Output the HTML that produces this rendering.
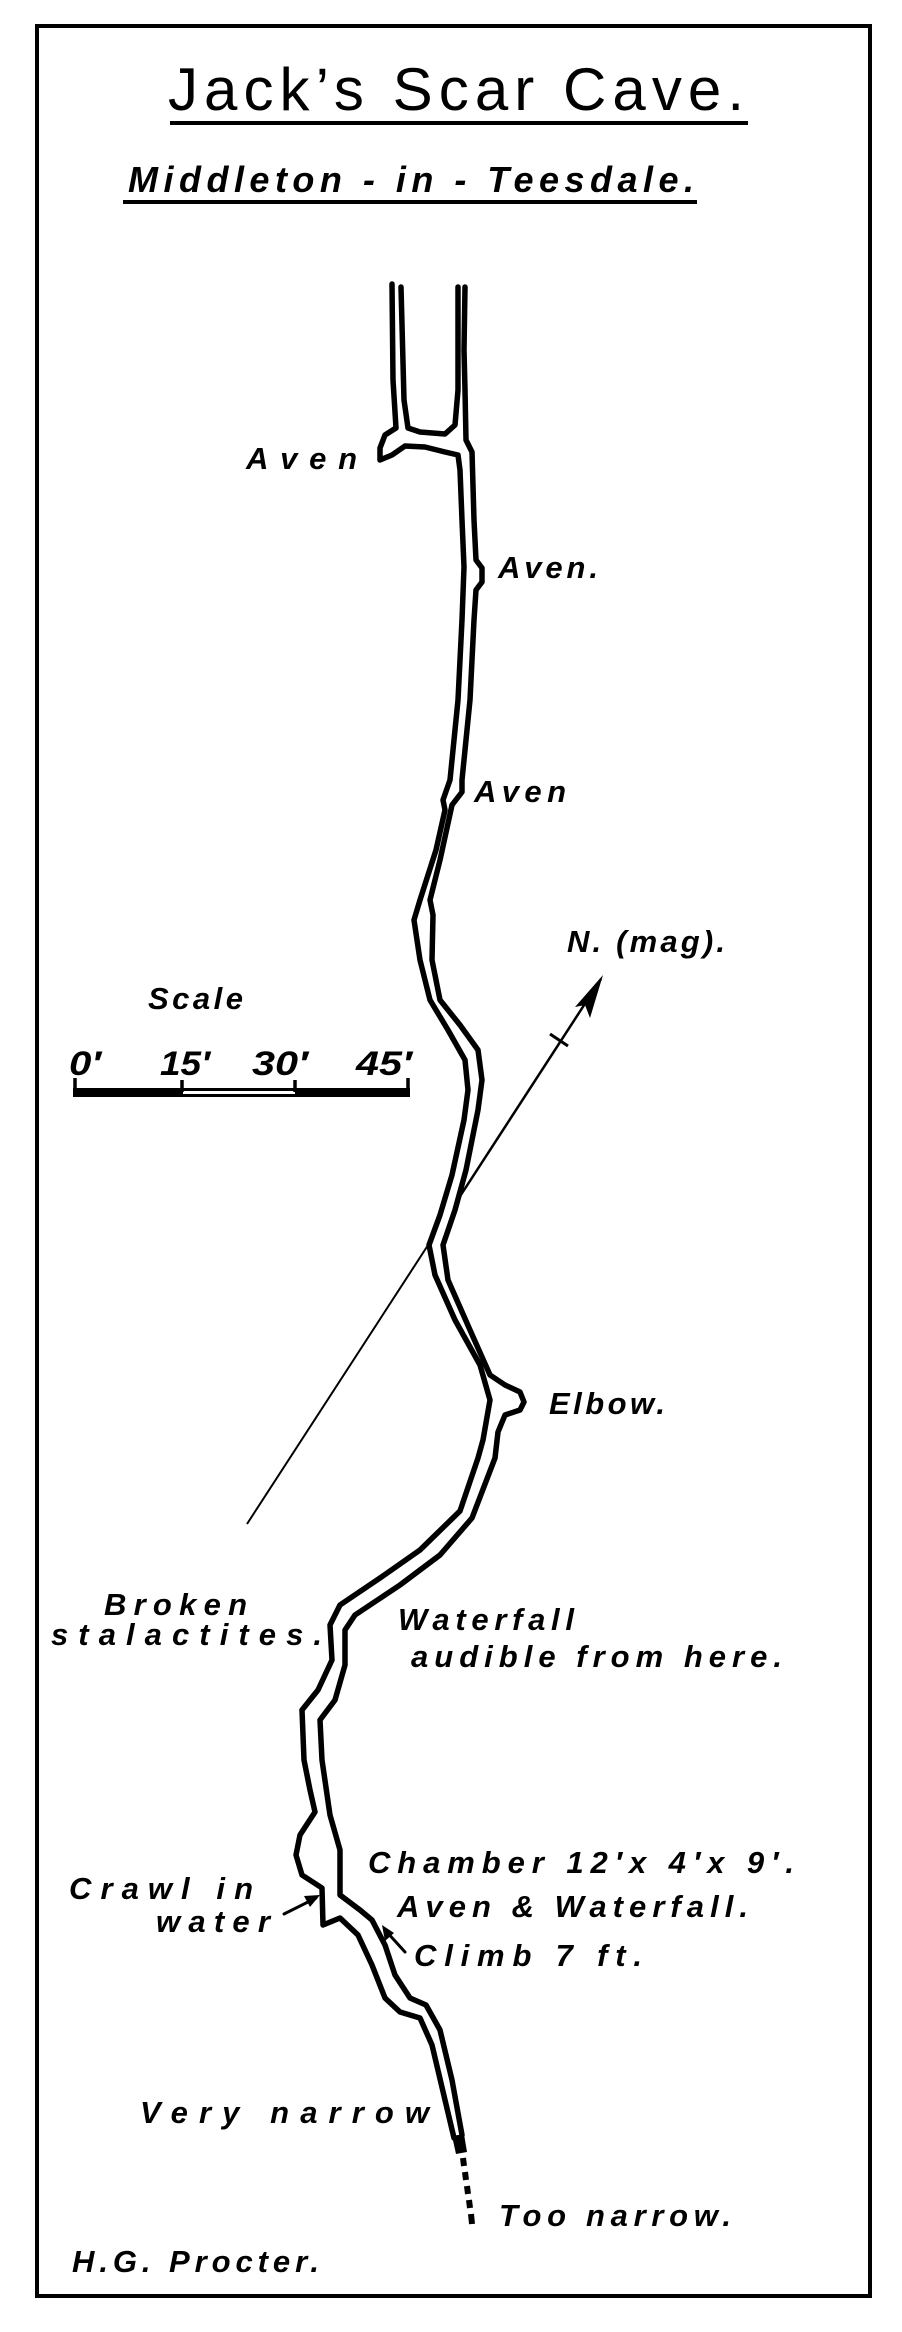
<!DOCTYPE html>
<html><head><meta charset="utf-8">
<style>
html,body{margin:0;padding:0;background:#fff;}
svg{display:block;}
text{font-family:"Liberation Sans",sans-serif;fill:#000;}
.l{font-style:italic;font-weight:bold;font-size:31px;}
</style></head>
<body>
<svg width="902" height="2332" viewBox="0 0 902 2332" xmlns="http://www.w3.org/2000/svg">
<rect x="37" y="26" width="833" height="2270" fill="none" stroke="#000" stroke-width="4"/>

<text x="168" y="110" font-size="60" textLength="576" lengthAdjust="spacing">Jack’s Scar Cave.</text>
<line x1="170" y1="123" x2="748" y2="123" stroke="#000" stroke-width="4"/>
<text class="l" x="128" y="192" style="font-size:36px" textLength="566" lengthAdjust="spacing">Middleton - in - Teesdale.</text>
<line x1="123" y1="202" x2="697" y2="202" stroke="#000" stroke-width="4"/>

<g fill="none" stroke="#000" stroke-width="5.5" stroke-linejoin="round" stroke-linecap="round">
<polyline points="392,284 393,380 396,428 385,435 380,448 380,460 392,455 405,446 425,447 445,452 458,455 460,470 462,520 464,567 462,620 458,700 450,780 443,800 445,810 436,850 420,900 414,920 420,960 430,1000 448,1030 465,1060 468,1090 464,1120 452,1175 440,1215 429,1245 435,1275 455,1320 480,1365 490,1400 483,1440 478,1458 460,1511 420,1550 380,1578 340,1605 330,1625 332,1660 318,1690 302,1710 304,1760 310,1790 315,1812 300,1835 296,1855 302,1875 322,1888 323,1925 340,1918 358,1935 372,1965 385,1998 400,2012 420,2018 432,2045 445,2100 454,2138"/>
<polyline points="401,287 404,400 408,428 420,432 445,434 455,425 458,390 458,287"/>
<polyline points="465,287 464,350 465,390 466,440 472,452 474,520 476,560 482,568 482,582 476,590 474,620 470,700 462,780 462,792 452,805 440,860 430,900 433,915 432,960 440,1000 460,1025 478,1050 482,1080 478,1110 466,1170 455,1210 443,1245 448,1280 470,1330 490,1375 505,1385 520,1392 524,1402 520,1410 505,1415 498,1432 495,1458 472,1518 440,1555 400,1585 355,1615 345,1630 345,1665 335,1700 320,1720 322,1760 330,1815 340,1850 340,1895 360,1910 372,1920 385,1945 395,1975 410,1998 426,2005 440,2030 452,2080 462,2135"/>
</g>
<polygon points="452,2136 464,2134 467,2152 456,2154" fill="#000"/>
<g stroke="#000" stroke-width="6">
<line x1="463" y1="2158" x2="464" y2="2166"/>
<line x1="465" y1="2172" x2="466" y2="2180"/>
<line x1="467" y1="2186" x2="468" y2="2194"/>
<line x1="469" y1="2200" x2="470" y2="2208"/>
<line x1="471" y1="2214" x2="472" y2="2224"/>
</g>

<line x1="247" y1="1524" x2="432" y2="1239" stroke="#000" stroke-width="2"/>
<line x1="455" y1="1204" x2="601" y2="979" stroke="#000" stroke-width="2.5"/>
<polygon points="603,975 590,1018 585,1005 575,1007" fill="#000"/>
<line x1="550" y1="1034" x2="568" y2="1046" stroke="#000" stroke-width="3"/>
<text class="l" x="567" y="952" textLength="158" lengthAdjust="spacing">N. (mag).</text>

<text class="l" x="148" y="1009" textLength="95" lengthAdjust="spacing">Scale</text>
<text class="l" x="69" y="1075" style="font-size:34px" textLength="32" lengthAdjust="spacingAndGlyphs">0′</text>
<text class="l" x="160" y="1075" style="font-size:34px" textLength="50" lengthAdjust="spacingAndGlyphs">15′</text>
<text class="l" x="252" y="1075" style="font-size:34px" textLength="56" lengthAdjust="spacingAndGlyphs">30′</text>
<text class="l" x="356" y="1075" style="font-size:34px" textLength="56" lengthAdjust="spacingAndGlyphs">45′</text>
<rect x="73" y="1088" width="337" height="9" fill="#000"/>
<rect x="183" y="1091" width="112" height="3" fill="#fff"/>
<g stroke="#000" stroke-width="3.5">
<line x1="75" y1="1078" x2="75" y2="1092"/>
<line x1="182" y1="1080" x2="182" y2="1092"/>
<line x1="295" y1="1080" x2="295" y2="1092"/>
<line x1="408" y1="1078" x2="408" y2="1092"/>
</g>

<text class="l" x="246" y="469" textLength="111" lengthAdjust="spacing">Aven</text>
<text class="l" x="498" y="578" textLength="100" lengthAdjust="spacing">Aven.</text>
<text class="l" x="474" y="802" textLength="92" lengthAdjust="spacing">Aven</text>
<text class="l" x="549" y="1414" textLength="116" lengthAdjust="spacing">Elbow.</text>
<text class="l" x="104" y="1615" textLength="143" lengthAdjust="spacing">Broken</text>
<text class="l" x="51" y="1645" textLength="271" lengthAdjust="spacing">stalactites.</text>
<text class="l" x="398" y="1630" textLength="176" lengthAdjust="spacing">Waterfall</text>
<text class="l" x="411" y="1667" textLength="371" lengthAdjust="spacing">audible from here.</text>
<text class="l" x="368" y="1873" textLength="426" lengthAdjust="spacing">Chamber 12′x 4′x 9′.</text>
<text class="l" x="397" y="1917" textLength="351" lengthAdjust="spacing">Aven &amp; Waterfall.</text>
<text class="l" x="414" y="1966" textLength="228" lengthAdjust="spacing">Climb 7 ft.</text>
<text class="l" x="69" y="1899" textLength="184" lengthAdjust="spacing">Crawl in</text>
<text class="l" x="156" y="1932" textLength="114" lengthAdjust="spacing">water</text>
<text class="l" x="140" y="2123" textLength="289" lengthAdjust="spacing">Very narrow</text>
<text class="l" x="499" y="2226" textLength="232" lengthAdjust="spacing">Too narrow.</text>
<text class="l" x="72" y="2272" textLength="247" lengthAdjust="spacing">H.G. Procter.</text>

<g stroke="#000" stroke-width="3" fill="none" stroke-linecap="round">
<line x1="284" y1="1914" x2="316" y2="1898"/>
<line x1="405" y1="1952" x2="385" y2="1930"/>
</g>
<polygon points="320,1895 304,1896 310,1907" fill="#000"/>
<polygon points="382,1925 385,1941 394,1933" fill="#000"/>
</svg>
</body></html>
